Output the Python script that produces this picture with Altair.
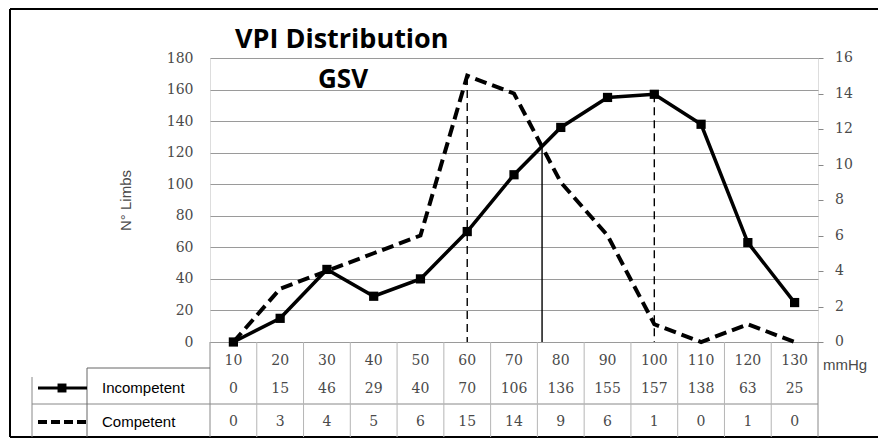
import altair as alt
import pandas as pd

# ---- data ----
categories = [10, 20, 30, 40, 50, 60, 70, 80, 90, 100, 110, 120, 130]
incompetent = [0, 15, 46, 29, 40, 70, 106, 136, 155, 157, 138, 63, 25]
competent = [0, 3, 4, 5, 6, 15, 14, 9, 6, 1, 0, 1, 0]
left_ticks = [0, 20, 40, 60, 80, 100, 120, 140, 160, 180]
right_ticks = [0, 2, 4, 6, 8, 10, 12, 14, 16]
dashed_rule_x = [60, 100]
dashed_rule_top = [168, 157]
solid_rule_x = [76]
solid_rule_top = [123]
title_text = ["VPI Distribution"]
subtitle_text = ["GSV"]
series_names = ["Incompetent", "Competent"]
unit_text = ["mmHg"]
y_title = "N° Limbs"

W, H = 608, 284
NUMFONT = "DejaVu Serif"
SANS = "Liberation Sans"
TITLEFONT = "Open Sans"
GRID = "#9a9a9a"
TXT = "#4a4a4a"

df = pd.DataFrame({"mmHg": categories, "Incompetent": incompetent, "Competent": competent})
bounds = pd.DataFrame({"b": [(a + b) / 2 for a, b in zip(categories[:-1], categories[1:])]})
dr = pd.DataFrame({"x": dashed_rule_x, "top": dashed_rule_top, "bot": [0] * len(dashed_rule_x)})
sr = pd.DataFrame({"x": solid_rule_x, "top": solid_rule_top, "bot": [0] * len(solid_rule_x)})
rt = pd.DataFrame({"v": right_ticks})

xs = alt.Scale(domain=[5, 135], nice=False, zero=False)
yl = alt.Scale(domain=[0, 180], nice=False)
yr = alt.Scale(domain=[0, 16], nice=False)

X = alt.X("mmHg:Q", scale=xs, axis=None)

left_axis = alt.Axis(
    values=left_ticks, grid=True, gridColor=GRID, gridWidth=1, ticks=False, domain=False,
    labelOverlap=False, labelPadding=17, labelFont=NUMFONT, labelFontSize=14, labelColor=TXT,
    title=y_title, titleX=-80, titleY=142, titleAngle=-90, titleBaseline="alphabetic",
    titleFont=SANS, titleFontSize=15, titleFontWeight="normal", titleColor=TXT,
)

inc_line = alt.Chart(df).mark_line(color="black", strokeWidth=3.5).encode(
    x=X, y=alt.Y("Incompetent:Q", scale=yl, axis=left_axis)
)
inc_pts = alt.Chart(df).mark_square(color="black", size=85, opacity=1).encode(
    x=X, y=alt.Y("Incompetent:Q", scale=yl, axis=left_axis)
)

dashed_rules = alt.Chart(dr).mark_rule(color="black", strokeWidth=1.4, strokeDash=[8, 5]).encode(
    x=alt.X("x:Q", scale=xs, axis=None), y=alt.Y("top:Q", scale=yl, axis=left_axis), y2="bot:Q"
)
solid_rules = alt.Chart(sr).mark_rule(color="black", strokeWidth=1.4).encode(
    x=alt.X("x:Q", scale=xs, axis=None), y=alt.Y("top:Q", scale=yl, axis=left_axis), y2="bot:Q"
)

# data table
col_seps = alt.Chart(bounds).mark_rule(color="#b5b5b5", strokeWidth=1).encode(
    x=alt.X("b:Q", scale=xs, axis=None), y=alt.value(H), y2=alt.value(379)
)
cat_row = alt.Chart(df).mark_text(font=NUMFONT, fontSize=14, color=TXT, baseline="middle").encode(
    x=X, y=alt.value(303), text="mmHg:Q"
)
inc_row = alt.Chart(df).mark_text(font=NUMFONT, fontSize=14, color=TXT, baseline="middle").encode(
    x=X, y=alt.value(331), text="Incompetent:Q"
)
comp_row = alt.Chart(df).mark_text(font=NUMFONT, fontSize=14, color=TXT, baseline="middle").encode(
    x=X, y=alt.value(364), text="Competent:Q"
)

one = pd.DataFrame({"k": [0]})


def hline(x1, x2, y, color="#888", w=1):
    return alt.Chart(one).mark_rule(color=color, strokeWidth=w).encode(
        x=alt.value(x1), x2=alt.value(x2), y=alt.value(y)
    )


def vline(x, y1, y2, color="#888", w=1):
    return alt.Chart(one).mark_rule(color=color, strokeWidth=w).encode(
        x=alt.value(x), y=alt.value(y1), y2=alt.value(y2)
    )


frame = [
    hline(-200, 700, -49, "black", 2),
    hline(-200, 700, 379, "black", 2),
    vline(-200, -49, 379, "black", 2),
]
table_lines = [
    vline(0, H, 379),
    vline(W, H, 379),
    hline(-178, W, 346),
    vline(-178, 319, 379),
    hline(-123, 0, 310, "#666"),
    vline(-123, 310, 379, "#666"),
]

legend_items = [
    alt.Chart(one).mark_rule(color="black", strokeWidth=3).encode(
        x=alt.value(-172), x2=alt.value(-123), y=alt.value(330)),
    alt.Chart(one).mark_square(color="black", size=80, opacity=1).encode(
        x=alt.value(-148), y=alt.value(330)),
    alt.Chart(one).mark_rule(color="black", strokeWidth=4, strokeDash=[9, 4]).encode(
        x=alt.value(-172), x2=alt.value(-123), y=alt.value(364)),
    alt.Chart(pd.DataFrame({"t": series_names, "yy": [330, 364]})).mark_text(
        font=SANS, fontSize=15, color="black", align="left", baseline="middle").encode(
        x=alt.value(-108), y=alt.Y("yy:Q", scale=None), text="t:N"),
]

texts = [
    alt.Chart(pd.DataFrame({"t": title_text})).mark_text(
        font=TITLEFONT, fontSize=27, fontWeight="bold", color="black", align="left", baseline="alphabetic").encode(
        x=alt.value(25), y=alt.value(-10), text="t:N"),
    alt.Chart(pd.DataFrame({"t": subtitle_text})).mark_text(
        font=TITLEFONT, fontSize=26, fontWeight="bold", color="black", align="center", baseline="alphabetic").encode(
        x=alt.value(133), y=alt.value(30), text="t:N"),
    alt.Chart(pd.DataFrame({"t": unit_text})).mark_text(
        font=SANS, fontSize=15, color=TXT, align="left", baseline="middle").encode(
        x=alt.value(613), y=alt.value(307), text="t:N"),
]

left_layer = alt.layer(
    inc_line, *frame, *table_lines, col_seps, dashed_rules, solid_rules, inc_pts,
    cat_row, inc_row, comp_row, *legend_items, *texts
)

right_axis = alt.Axis(
    values=right_ticks, grid=False, ticks=True, tickSize=5, tickColor="#888", domain=False,
    labels=False, title=None, orient="right",
)
comp_line = alt.Chart(df).mark_line(color="black", strokeWidth=4, strokeDash=[12, 6]).encode(
    x=X, y=alt.Y("Competent:Q", scale=yr, axis=right_axis)
)
right_labels = alt.Chart(rt).mark_text(
    font=NUMFONT, fontSize=14, color=TXT, align="left", baseline="middle").encode(
    x=alt.value(625), y=alt.Y("v:Q", scale=yr, axis=right_axis), text="v:Q"
)
right_layer = alt.layer(comp_line, right_labels)

chart = alt.layer(left_layer, right_layer).resolve_scale(y="independent").properties(
    width=W, height=H,
    autosize=alt.AutoSizeParams(type="none"),
    padding={"left": 202, "top": 50, "right": 60, "bottom": 96},
).configure_view(stroke="#888", strokeWidth=1).configure(background="white")

chart.save("out.html", embed_options={"renderer": "svg", "actions": False})
